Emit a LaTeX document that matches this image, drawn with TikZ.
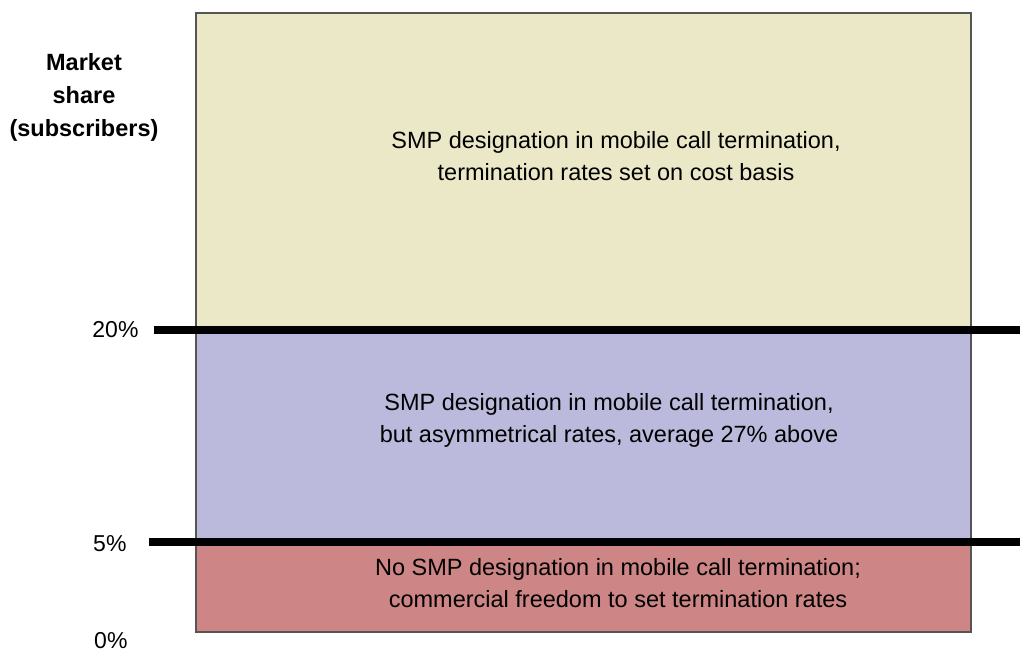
\documentclass[tikz,border=0pt]{standalone}
\usepackage{fontspec}
\setmainfont{Liberation Sans}
\definecolor{bandhigh}{HTML}{EBE8C8}
\definecolor{bandmid}{HTML}{BBBADD}
\definecolor{bandlow}{HTML}{CD8585}
\definecolor{edgegray}{HTML}{555555}
\begin{document}
\begin{tikzpicture}[x=1pt,y=-1pt,
  band/.style={draw=edgegray,line width=1.2pt},
  threshold/.style={line width=7.5pt,black},
  bandtext/.style={font=\fontsize{23.5}{32}\selectfont,align=center},
  ticktext/.style={font=\fontsize{23}{26}\selectfont,anchor=east},
  axistitle/.style={font=\bfseries\fontsize{23.5}{33}\selectfont,align=center}]
\useasboundingbox (0,0) rectangle (1020,652);
% regulatory bands
\filldraw[band,fill=bandhigh] (196,13) rectangle (971,330);
\filldraw[band,fill=bandmid] (196,330) rectangle (971,542);
\filldraw[band,fill=bandlow] (196,542) rectangle (971,632);
% thresholds
\coordinate (t20a) at (154,330);
\coordinate (t20b) at (1020,330);
\coordinate (t5a) at (149,542);
\coordinate (t5b) at (1020,542);
\draw[threshold] (t20a) -- (t20b);
\draw[threshold] (t5a) -- (t5b);
% axis labels
\node[axistitle] (title) at (84,97) {Market\\share\\(subscribers)};
\node[ticktext] (p20) at (142,330) {20\%};
\node[ticktext] (p5) at (130,544) {5\%};
\node[ticktext] (p0) at (131,641) {0\%};
% band descriptions
\node[bandtext] (high) at (616,156) {SMP designation in mobile call termination,\\termination rates set on cost basis};
\node[bandtext] (mid) at (609,420) {SMP designation in mobile call termination,\\but asymmetrical rates, average 27\% above};
\node[bandtext] (low) at (618,583) {No SMP designation in mobile call termination;\\commercial freedom to set termination rates};
\end{tikzpicture}
\end{document}
